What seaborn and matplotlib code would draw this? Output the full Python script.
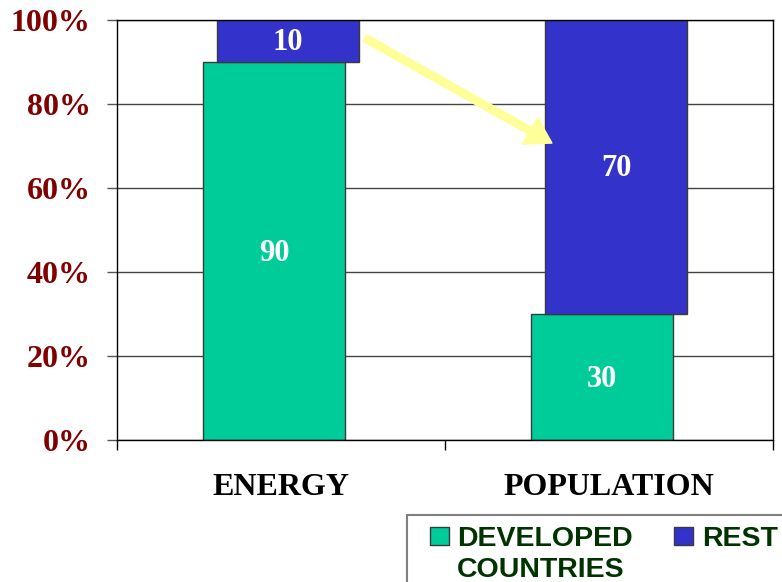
import numpy as np
import matplotlib
matplotlib.use("Agg")
import matplotlib.pyplot as plt
import matplotlib.patches as mpatches
import seaborn as sns

# ---- data ----
categories = ["ENERGY", "POPULATION"]
developed = [90, 30]
rest = [10, 70]
series_labels = ["DEVELOPED", "COUNTRIES"]
rest_label = "REST"
y_ticks = [0, 20, 40, 60, 80, 100]
y_tick_labels = [f"{v}%" for v in y_ticks]

# ---- style ----
GREEN = "#00CC99"
BLUE = "#3333CC"
EDGE = "#3a3a3a"
TICK_RED = "#800000"
LEG_GREEN = "#003300"
ARROW = "#FFFF99"
BAR_W = 0.433
SHIFT_DEV = -0.021
SHIFT_REST = 0.022

sns.set_style("white")
plt.rcParams["font.family"] = ["Liberation Serif", "DejaVu Serif"]

fig = plt.figure(figsize=(7.82, 5.82), dpi=100)
W, H = 782, 582
ax = fig.add_axes([117 / W, 142 / H, 656 / W, 420 / H])

idx = np.arange(len(categories))
sns.barplot(x=idx + SHIFT_DEV, y=developed, native_scale=True, width=BAR_W,
            color=GREEN, saturation=1, edgecolor=EDGE, linewidth=1,
            errorbar=None, ax=ax)
sns.barplot(x=idx + SHIFT_REST, y=rest, native_scale=True, width=BAR_W,
            color=BLUE, saturation=1, edgecolor=EDGE, linewidth=1,
            errorbar=None, bottom=developed, ax=ax)

lab_kw = dict(label_type="center", color="white", fontsize=22,
              fontweight="bold", family=["Liberation Serif", "DejaVu Serif"])
ax.bar_label(ax.containers[0], labels=[str(v) for v in developed], padding=-2, **lab_kw)
ax.bar_label(ax.containers[1], labels=[str(v) for v in rest], padding=-1, **lab_kw)

ax.set_xlim(-0.5, len(categories) - 0.5)
ax.set_ylim(0, 100)

# x: boundary ticks + category labels as minor ticks
ax.set_xticks(np.arange(len(categories) + 1) - 0.5)
ax.set_xticklabels([])
ax.set_xticks(idx, minor=True)
ax.set_xticklabels(categories, minor=True, fontsize=23, fontweight="bold",
                   color="black")
ax.tick_params(axis="x", which="major", direction="out", length=7,
               width=1, color="black", bottom=True)
ax.tick_params(axis="x", which="minor", length=0, pad=24, bottom=True)

ax.set_yticks(y_ticks)
ax.set_yticklabels(y_tick_labels, fontsize=23, fontweight="bold",
                   color=TICK_RED)
ax.tick_params(axis="y", direction="out", length=7, width=1, color="#555555",
               pad=12, left=True)

ax.yaxis.grid(True, color="#444444", linewidth=1)
ax.xaxis.grid(False)
ax.set_axisbelow(True)
for s in ax.spines.values():
    s.set_visible(True)
    s.set_color("black")
    s.set_linewidth(1)
ax.set_xlabel("")
ax.set_ylabel("")

# arrow annotation
ax.annotate("", xy=(0.663, 0.707), xytext=(0.378, 0.957),
            xycoords="axes fraction", textcoords="axes fraction",
            arrowprops=dict(arrowstyle="simple,head_length=1.8,head_width=2.2,tail_width=0.55",
                            color=ARROW, mutation_scale=10, shrinkA=0, shrinkB=0))

# legend (manual box)
def fx(px):
    return px / W

def fy(py):
    return (H - py) / H

fig.patches.append(mpatches.Rectangle((fx(407), fy(595)), fx(400), (595 - 515) / H,
                                      transform=fig.transFigure, facecolor="white",
                                      edgecolor="#808080", linewidth=1.5))
fig.patches.append(mpatches.Rectangle((fx(430), fy(545)), fx(19), 18 / H,
                                      transform=fig.transFigure, facecolor=GREEN,
                                      edgecolor=EDGE, linewidth=1))
fig.patches.append(mpatches.Rectangle((fx(674), fy(545)), fx(19), 18 / H,
                                      transform=fig.transFigure, facecolor=BLUE,
                                      edgecolor=EDGE, linewidth=1))
leg_kw = dict(fontsize=20.5, fontweight="bold", color=LEG_GREEN,
              family=["Liberation Sans", "DejaVu Sans"], va="baseline", ha="left")
fig.text(fx(457), fy(546), series_labels[0], **leg_kw)
fig.text(fx(457), fy(577), series_labels[1], **leg_kw)
fig.text(fx(702), fy(546), rest_label, **leg_kw)

fig.savefig("out.png", dpi=100)
